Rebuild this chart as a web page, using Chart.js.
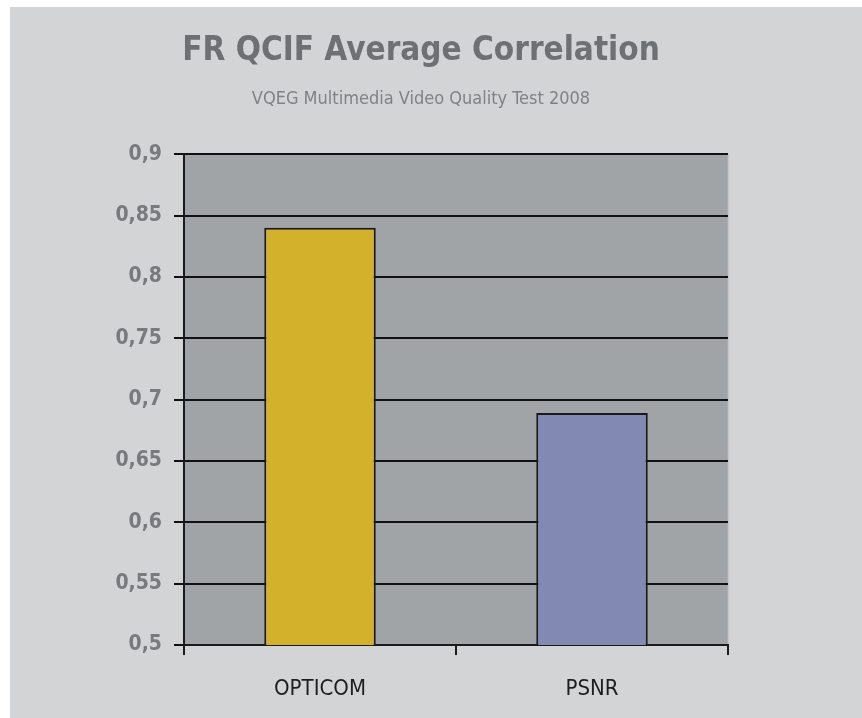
<!DOCTYPE html>
<html>
<head>
<meta charset="utf-8">
<script src="https://cdn.jsdelivr.net/npm/chart.js@4"></script>
<style>
html,body{margin:0;padding:0;background:#ffffff;}
canvas{display:block;}
</style>
</head>
<body>
<canvas id="c" width="862" height="718"></canvas>
<script>
const categories = ["OPTICOM", "PSNR"];
const correlationValues = [0.840, 0.689];
const barColors = ["#d4b12b", "#8289b3"];
const chartTitle = "FR QCIF Average Correlation";
const chartSubtitle = "VQEG Multimedia Video Quality Test 2008";

const FONT = "'Liberation Sans Narrow', 'DejaVu Sans Condensed', 'Liberation Sans', sans-serif";

const bgPlugin = {
  id: 'bg',
  beforeDraw(chart) {
    const ctx = chart.ctx;
    ctx.save();
    ctx.fillStyle = '#ffffff';
    ctx.fillRect(0, 0, chart.width, chart.height);
    ctx.fillStyle = '#d3d4d6';
    ctx.fillRect(10, 7, chart.width - 10, chart.height - 7);
    const a = chart.chartArea;
    ctx.fillStyle = '#a1a4a7';
    ctx.fillRect(a.left, a.top, a.right - a.left, a.bottom - a.top);
    ctx.strokeStyle = '#c4c6c8';
    ctx.lineWidth = 1.5;
    ctx.beginPath();
    ctx.moveTo(a.right + 0.5, a.top);
    ctx.lineTo(a.right + 0.5, a.bottom);
    ctx.stroke();
    ctx.restore();
  }
};

new Chart(document.getElementById('c'), {
  type: 'bar',
  data: {
    labels: categories,
    datasets: [{
      data: correlationValues,
      backgroundColor: barColors,
      borderColor: '#1a1a1a',
      borderWidth: 2,
      borderSkipped: false,
      categoryPercentage: 1.0,
      barPercentage: 0.41
    }]
  },
  options: {
    responsive: false,
    animation: false,
    devicePixelRatio: 1,
    layout: { padding: { top: 10, right: 134, bottom: 0, left: 114 } },
    plugins: {
      legend: { display: false },
      tooltip: { enabled: false },
      title: {
        display: true,
        text: chartTitle,
        color: '#6d7174',
        font: { family: FONT, size: 33, weight: 'bold' },
        padding: { top: 22, bottom: 4 }
      },
      subtitle: {
        display: true,
        text: chartSubtitle,
        color: '#7f8286',
        font: { family: FONT, size: 18 },
        padding: { top: 13, bottom: 44 }
      }
    },
    scales: {
      x: {
        afterFit(s) { s.height = 73; },
        border: { display: true, color: '#1a1a1a', width: 2 },
        grid: {
          offset: true,
          drawOnChartArea: false,
          drawTicks: true,
          tickLength: 10,
          color: '#1a1a1a',
          lineWidth: 2
        },
        ticks: {
          color: '#1e1e1e',
          font: { family: FONT, size: 22 },
          padding: 21
        }
      },
      y: {
        min: 0.5,
        max: 0.9,
        afterFit(s) { s.width = 70; },
        border: { display: true, color: '#1a1a1a', width: 2 },
        grid: {
          color: '#111111',
          lineWidth: 2,
          tickLength: 10
        },
        ticks: {
          stepSize: 0.05,
          color: '#777b7e',
          font: { family: FONT, size: 21, weight: 'bold' },
          padding: 12,
          callback: (v) => Number(v.toFixed(2)).toString().replace('.', ',')
        }
      }
    }
  },
  plugins: [bgPlugin]
});
</script>
</body>
</html>
